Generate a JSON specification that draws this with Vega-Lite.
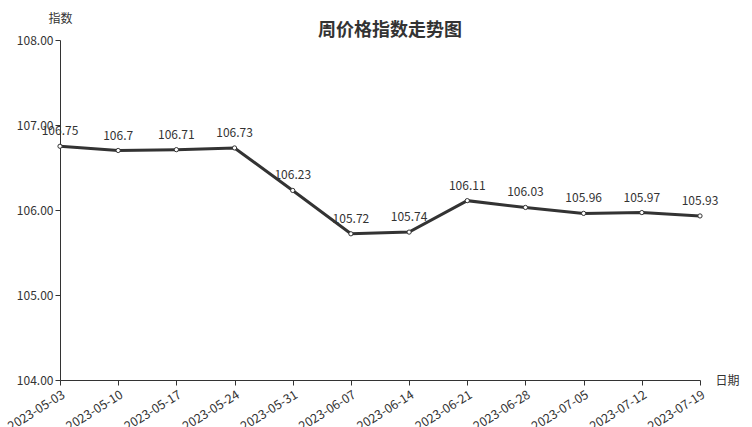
{
  "$schema": "https://vega.github.io/schema/vega-lite/v6.json",
  "autosize": {"type": "none"},
  "width": 640,
  "height": 340,
  "padding": {"left": 60, "top": 40, "right": 52, "bottom": 47},
  "background": "white",
  "config": {
    "font": "Noto Sans CJK SC",
    "view": {"stroke": null}
  },
  "title": {
    "text": "周价格指数走势图",
    "fontSize": 18,
    "fontWeight": "bold",
    "color": "#333333",
    "anchor": "middle",
    "dx": 10,
    "offset": -28
  },
  "data": {
    "values": [
      {"date": "2023-05-03", "value": 106.75},
      {"date": "2023-05-10", "value": 106.7},
      {"date": "2023-05-17", "value": 106.71},
      {"date": "2023-05-24", "value": 106.73},
      {"date": "2023-05-31", "value": 106.23},
      {"date": "2023-06-07", "value": 105.72},
      {"date": "2023-06-14", "value": 105.74},
      {"date": "2023-06-21", "value": 106.11},
      {"date": "2023-06-28", "value": 106.03},
      {"date": "2023-07-05", "value": 105.96},
      {"date": "2023-07-12", "value": 105.97},
      {"date": "2023-07-19", "value": 105.93}
    ]
  },
  "encoding": {
    "x": {
      "field": "date",
      "type": "ordinal",
      "scale": {"type": "point", "padding": 0},
      "axis": {
        "title": "日期",
        "titleX": 667,
        "titleY": 0,
        "titleAlign": "center",
        "titleBaseline": "middle",
        "titleFontSize": 12,
        "titleFontWeight": "normal",
        "titleColor": "#333333",
        "labelAngle": -32,
        "labelFontSize": 12.5,
        "labelColor": "#333333",
        "domainColor": "#333333",
        "tickColor": "#333333",
        "tickSize": 5,
        "grid": false,
        "labelPadding": 3
      }
    },
    "y": {
      "field": "value",
      "type": "quantitative",
      "scale": {"domain": [104, 108], "zero": false, "nice": false},
      "axis": {
        "title": "指数",
        "titleAngle": 0,
        "titleX": 0,
        "titleY": -22,
        "titleAlign": "center",
        "titleBaseline": "middle",
        "titleFontSize": 12,
        "titleFontWeight": "normal",
        "titleColor": "#333333",
        "values": [104, 105, 106, 107, 108],
        "format": ".2f",
        "labelFontSize": 12,
        "labelColor": "#333333",
        "domainColor": "#333333",
        "tickColor": "#333333",
        "tickSize": 5,
        "grid": false,
        "labelPadding": 2
      }
    }
  },
  "layer": [
    {
      "mark": {"type": "line", "color": "#333333", "strokeWidth": 3}
    },
    {
      "mark": {"type": "point", "filled": true, "fill": "white", "stroke": "#333333", "strokeWidth": 1, "size": 18, "opacity": 1}
    },
    {
      "mark": {"type": "text", "dy": -15, "fontSize": 12, "color": "#333333"},
      "encoding": {"text": {"field": "value", "type": "quantitative"}}
    }
  ]
}
